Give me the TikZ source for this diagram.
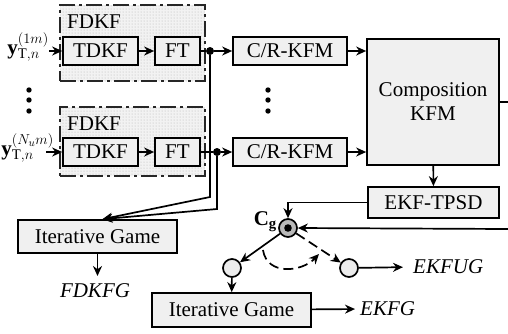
\documentclass[tikz,border=0pt]{standalone}
\usepackage{fontspec}
\setmainfont{Liberation Serif}
\usetikzlibrary{arrows.meta, patterns, positioning}
\newcommand{\dgfont}{\fontsize{21}{24}\selectfont}

\begin{document}
\begin{tikzpicture}[x=1pt, y=-1pt,
        blk/.style={draw, fill=gray!12, line width=1.7pt, minimum height=28pt,
                    inner sep=0pt, align=center, font=\dgfont},
        grp/.style={draw=black!85, line width=1.6pt,
                    dash pattern=on 16pt off 4pt on 3pt off 4pt,
                    preaction={fill=gray!10}, pattern=dots, pattern color=gray!60,
                    inner sep=0pt},
        arr/.style={-{Stealth[length=10pt, width=9pt]}, line width=1.7pt},
        wire/.style={line width=1.7pt},
        jdot/.style={circle, fill, inner sep=0pt, minimum size=8pt},
        sw/.style={circle, draw, line width=1.7pt, fill=gray!15,
                   minimum size=18pt, inner sep=0pt},
        lbl/.style={font=\dgfont\itshape, inner sep=0pt}]
    \useasboundingbox (0,0) rectangle (508,333);

    % upper FDKF branch
    \node[grp, minimum width=145pt, minimum height=76pt] (fdkfA) at (132.5,43) {};
    \node[font=\dgfont, anchor=base west, inner sep=0pt] (fdkfAlbl) at (67,28) {FDKF};
    \node[blk, minimum width=75pt] (tdkfA) at (100.5,51) {TDKF};
    \node[blk, minimum width=45pt] (ftA) at (177.5,51) {FT};
    \node[jdot] (jA) at (210,51) {};
    \node[blk, minimum width=114pt] (crA) at (290,51) {C/R-KFM};
    \node[font=\dgfont, anchor=base east, inner sep=0pt] (yA) at (49,54)
          {$\mathbf{y}^{(1m)}_{\mathrm{T},n}$};

    % lower FDKF branch
    \node[grp, minimum width=145pt, minimum height=69pt] (fdkfB) at (132.5,141.5) {};
    \node[font=\dgfont, anchor=base west, inner sep=0pt] (fdkfBlbl) at (67,130) {FDKF};
    \node[blk, minimum width=75pt] (tdkfB) at (100.5,152) {TDKF};
    \node[blk, minimum width=45pt] (ftB) at (177.5,152) {FT};
    \node[jdot] (jB) at (217,152) {};
    \node[blk, minimum width=114pt] (crB) at (290,152) {C/R-KFM};
    \node[font=\dgfont, anchor=base east, inner sep=0pt] (yB) at (54,155)
          {$\mathbf{y}^{(N_u m)}_{\mathrm{T},n}$};

    % vertical dots
    \foreach \yy in {90,100,111} {
        \fill (29,\yy) circle (2.7pt);
        \fill (268,\yy) circle (2.7pt);
    }

    \node[blk, minimum width=132pt, minimum height=126pt] (comp) at (433,102)
          {Composition\\KFM};
    \node[blk, minimum width=131pt, minimum height=31pt] (ekf) at (433.5,202.5)
          {EKF-TPSD};

    \draw[arr] (yA.east |- tdkfA.west) -- (tdkfA.west);
    \draw[arr] (tdkfA) -- (ftA);
    \draw[wire] (ftA) -- (jA);
    \draw[arr] (jA) -- (crA);
    \draw[arr] (crA) -- (comp.west |- crA);
    \draw[arr] ([xshift=-8pt]yB.east |- tdkfB.west) -- (tdkfB.west);
    \draw[arr] (tdkfB) -- (ftB);
    \draw[wire] (ftB) -- (jB);
    \draw[arr] (jB) -- (crB);
    \draw[arr] (crB) -- (comp.west |- crB);
    \draw[arr] (comp) -- (ekf);

    \coordinate (outR) at (508,102);
    \coordinate (inR) at (508,229);
    \draw[wire] (comp.east) -- (outR);

    % game on FDKF outputs
    \node[blk, minimum width=159pt, minimum height=33pt] (igA) at (97.5,236.5)
          {Iterative Game};
    \node[lbl, anchor=north] (fdkfg) at (95,283) {FDKFG};
    \draw[arr] (jA) -- ++(0,146) -- ([xshift=5pt]igA.north);
    \draw[arr] (jB) -- ++(0,57) -- ([xshift=5pt]igA.north);
    \draw[arr, shorten >=7pt] (igA) -- (igA.south |- fdkfg.north);

    % switch C_g
    \node[sw, fill=gray!55] (cg) at (288,228) {};
    \fill (cg.center) circle (3.8pt);
    \node[font=\dgfont, anchor=east, inner sep=0pt] (cglbl) at (277,222)
          {$\mathbf{C}_{\mathbf{g}}$};
    \draw[arr] (ekf.west) -| (cg.north);
    \draw[arr] (inR) -- (cg.east);

    \node[sw] (swL) at (232,268) {};
    \node[sw] (swR) at (349,268) {};
    \draw[arr] (cg) -- (swL);
    \draw[arr, dash pattern=on 10pt off 5pt] (cg) -- (swR);
    \coordinate (rotA) at (263,250);
    \coordinate (rotB) at (319,254);
    \draw[arr, dash pattern=on 10pt off 5pt] (rotA) .. controls (267,276) and (302,272) .. (rotB);

    \node[lbl, anchor=west] (ekfug) at (413,267) {EKFUG};
    \draw[arr, shorten >=10pt] (swR) -- (ekfug.west);

    \node[blk, minimum width=159pt, minimum height=34pt] (igB) at (231.5,310)
          {Iterative Game};
    \draw[arr] (swL) -- (igB);
    \node[lbl, anchor=west] (ekfg) at (360,309) {EKFG};
    \draw[arr, shorten >=5pt] (igB) -- (ekfg.west);
\end{tikzpicture}
\end{document}
